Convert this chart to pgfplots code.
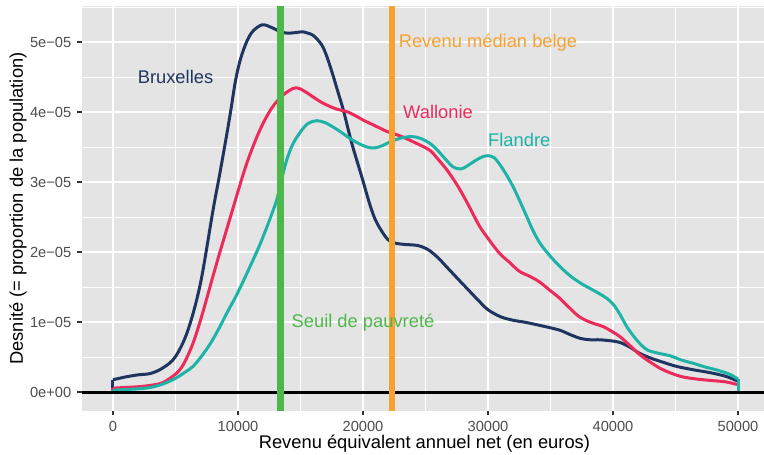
\documentclass[border=0pt]{standalone}
\usepackage{pgfplots}
\pgfplotsset{compat=1.18}
\usepackage{fontspec}
\setmainfont{Liberation Sans}
\definecolor{navy}{HTML}{1F3560}
\definecolor{wal}{HTML}{EC2A5B}
\definecolor{fla}{HTML}{1DB3A6}
\definecolor{seuil}{HTML}{4DB84A}
\definecolor{med}{HTML}{F7A12F}
\definecolor{bg}{HTML}{E4E4E4}
\definecolor{gray30}{HTML}{4D4D4D}
\definecolor{gray20}{HTML}{333333}
\begin{document}
\begin{tikzpicture}
\begin{axis}[
  scale only axis, width=409.35pt, height=242.6pt,
  xmin=-2500, xmax=52080, ymin=-0.2625e-5, ymax=5.5125e-5,
  axis background/.style={fill=bg},
  axis line style={draw=none},
  xtick={0,10000,20000,30000,40000,50000},
  xticklabels={0,10000,20000,30000,40000,50000},
  ytick={0,1e-5,2e-5,3e-5,4e-5,5e-5},
  yticklabels={0e+00,1e−05,2e−05,3e−05,4e−05,5e−05},
  minor xtick={5000,15000,25000,35000,45000},
  minor ytick={0.5e-5,1.5e-5,2.5e-5,3.5e-5,4.5e-5,5.5e-5},
  grid=both,
  major grid style={white, line width=1.07pt},
  minor grid style={white, line width=0.53pt},
  tick align=outside, tick pos=left,
  major tick length=2.75pt, minor tick length=0pt,
  tick style={gray20, line width=1.07pt},
  ticklabel style={font=\fontsize{8.8}{10}\selectfont, text=gray30},
  scaled ticks=false,
  clip=true,
]
% Bruxelles
\addplot[navy, line width=1.8pt, smooth, tension=0.55] coordinates {
(0,0.18e-5) (1000,0.22e-5) (2000,0.25e-5) (3000,0.27e-5) (4000,0.35e-5) (5000,0.51e-5)
(6000,0.89e-5) (7000,1.56e-5) (8000,2.60e-5) (8500,3.08e-5) (9000,3.58e-5) (9400,4.00e-5)
(9800,4.45e-5) (10200,4.76e-5) (10700,5.01e-5) (11200,5.16e-5) (11950,5.25e-5) (12700,5.21e-5)
(13400,5.15e-5) (14000,5.13e-5) (14700,5.14e-5) (15200,5.15e-5) (15600,5.13e-5) (16000,5.10e-5)
(16500,5.01e-5) (16830,4.92e-5) (17200,4.75e-5) (17630,4.51e-5) (18030,4.27e-5) (18430,4.03e-5)
(19100,3.56e-5) (19900,3.08e-5) (20400,2.77e-5) (20700,2.60e-5) (21000,2.46e-5) (21400,2.33e-5)
(22000,2.18e-5) (22600,2.13e-5) (23500,2.11e-5) (24300,2.10e-5) (25100,2.05e-5) (25900,1.94e-5)
(26700,1.79e-5) (27700,1.60e-5) (28500,1.45e-5) (29300,1.30e-5) (30000,1.18e-5) (31000,1.08e-5)
(32000,1.03e-5) (33000,1.00e-5) (34300,0.95e-5) (35700,0.89e-5) (36500,0.83e-5) (37400,0.77e-5)
(38200,0.75e-5) (39000,0.75e-5) (40400,0.72e-5) (41300,0.65e-5) (42100,0.56e-5) (43000,0.49e-5)
(44000,0.43e-5) (45100,0.37e-5) (46500,0.32e-5) (47800,0.28e-5) (49000,0.23e-5) (50000,0.16e-5)
};
\addplot[navy, line width=1.8pt] coordinates {(0,0) (0,0.18e-5)};
\addplot[navy, line width=1.8pt] coordinates {(50000,0) (50000,0.16e-5)};
% Wallonie
\addplot[wal, line width=1.8pt, smooth, tension=0.55] coordinates {
(0,0.06e-5) (1000,0.07e-5) (2000,0.08e-5) (3000,0.10e-5) (4000,0.14e-5) (5000,0.26e-5)
(5500,0.36e-5) (6000,0.53e-5) (6500,0.75e-5) (7000,1.03e-5) (7500,1.34e-5) (8000,1.66e-5)
(8500,1.97e-5) (9100,2.33e-5) (9600,2.63e-5) (10100,2.93e-5) (10700,3.27e-5) (11400,3.60e-5)
(12000,3.84e-5) (12700,4.06e-5) (13500,4.23e-5) (14400,4.34e-5) (14900,4.34e-5) (15500,4.28e-5)
(16000,4.22e-5) (16700,4.14e-5) (17400,4.08e-5) (18000,4.04e-5) (18700,4.01e-5) (19400,3.95e-5)
(20000,3.89e-5) (20700,3.83e-5) (21400,3.77e-5) (22000,3.72e-5) (22700,3.68e-5) (23400,3.63e-5)
(24000,3.58e-5) (24700,3.52e-5) (25400,3.45e-5) (26000,3.33e-5) (26700,3.18e-5) (27500,2.97e-5)
(28300,2.72e-5) (29300,2.38e-5) (30000,2.20e-5) (30900,1.99e-5) (31700,1.86e-5) (32500,1.73e-5)
(33300,1.66e-5) (34100,1.58e-5) (35000,1.45e-5) (35700,1.35e-5) (36500,1.21e-5) (37300,1.08e-5)
(38200,1.00e-5) (39200,0.94e-5) (40000,0.86e-5) (40600,0.79e-5) (41400,0.66e-5) (42200,0.53e-5)
(43000,0.43e-5) (43800,0.34e-5) (44700,0.27e-5) (45600,0.22e-5) (46700,0.19e-5) (47800,0.17e-5)
(49000,0.15e-5) (50000,0.11e-5)
};
\addplot[wal, line width=1.8pt] coordinates {(0,0) (0,0.06e-5)};
\addplot[wal, line width=1.8pt] coordinates {(50000,0) (50000,0.11e-5)};
% Flandre
\addplot[fla, line width=1.8pt, smooth, tension=0.55] coordinates {
(0,0.03e-5) (1000,0.04e-5) (2000,0.05e-5) (3000,0.07e-5) (4000,0.12e-5) (5000,0.20e-5)
(5700,0.28e-5) (6400,0.37e-5) (7100,0.52e-5) (7800,0.70e-5) (8500,0.92e-5) (9100,1.13e-5)
(9800,1.36e-5) (10400,1.58e-5) (11100,1.85e-5) (11800,2.13e-5) (12500,2.45e-5) (13100,2.75e-5)
(13400,2.98e-5) (13900,3.32e-5) (14400,3.55e-5) (15000,3.72e-5) (15600,3.84e-5) (16300,3.88e-5)
(17000,3.85e-5) (17600,3.79e-5) (18300,3.71e-5) (19000,3.62e-5) (19700,3.55e-5) (20400,3.50e-5)
(20900,3.49e-5) (21500,3.52e-5) (22200,3.58e-5) (23000,3.63e-5) (23600,3.65e-5) (24100,3.65e-5)
(24700,3.62e-5) (25400,3.55e-5) (26000,3.45e-5) (26700,3.31e-5) (27200,3.22e-5) (27800,3.19e-5)
(28300,3.23e-5) (28900,3.30e-5) (29500,3.36e-5) (30000,3.38e-5) (30500,3.35e-5) (31000,3.24e-5)
(31500,3.10e-5) (32000,2.94e-5) (32500,2.75e-5) (33100,2.51e-5) (33600,2.31e-5) (34200,2.12e-5)
(35000,1.94e-5) (35800,1.79e-5) (36600,1.66e-5) (37500,1.55e-5) (38300,1.47e-5) (39000,1.40e-5)
(39600,1.33e-5) (40100,1.24e-5) (40600,1.10e-5) (41100,0.94e-5) (41700,0.79e-5) (42300,0.67e-5)
(42800,0.60e-5) (43600,0.56e-5) (44600,0.52e-5) (45500,0.46e-5) (46500,0.41e-5) (47400,0.36e-5)
(48300,0.32e-5) (49300,0.26e-5) (50000,0.19e-5)
};
\addplot[fla, line width=1.8pt] coordinates {(0,0) (0,0.03e-5)};
\addplot[fla, line width=1.8pt] coordinates {(50000,0) (50000,0.19e-5)};
% reference lines
\addplot[black, line width=1.4pt] coordinates {(-2500,0) (52080,0)};
\addplot[seuil, line width=4pt] coordinates {(13400,-1e-5) (13400,6e-5)};
\addplot[med, line width=3.6pt] coordinates {(22350,-1e-5) (22350,6e-5)};
% labels
\node[text=navy, font=\fontsize{11}{13}\selectfont] at (axis cs:5000,4.5e-5) {Bruxelles};
\node[text=med, font=\fontsize{11}{13}\selectfont] at (axis cs:30000,5e-5) {Revenu médian belge};
\node[text=wal, font=\fontsize{11}{13}\selectfont] at (axis cs:26000,4e-5) {Wallonie};
\node[text=fla, font=\fontsize{11}{13}\selectfont] at (axis cs:32500,3.6e-5) {Flandre};
\node[text=seuil, font=\fontsize{11}{13}\selectfont] at (axis cs:20000,1e-5) {Seuil de pauvreté};
\end{axis}
\node[font=\fontsize{11}{13}\selectfont] at (205.6pt,-20pt) {Revenu équivalent annuel net (en euros)};
\node[font=\fontsize{11}{13}\selectfont, rotate=90] at (-38.25pt,121.3pt) {Desnité (= proportion de la population)};
\pgfresetboundingbox
\path[use as bounding box] (-49.05pt,-26pt) rectangle (409.35pt,246.44pt);
\end{tikzpicture}
\end{document}
